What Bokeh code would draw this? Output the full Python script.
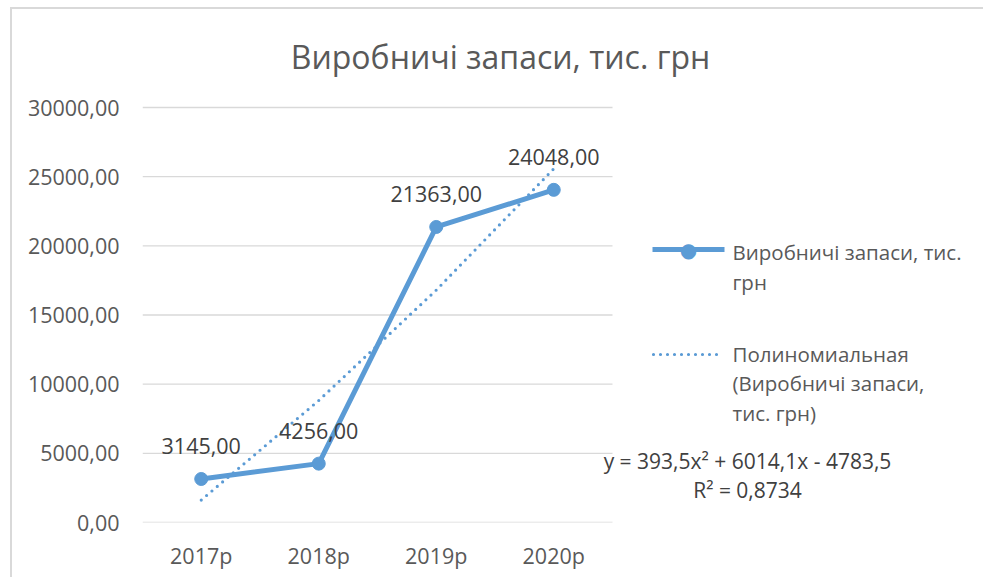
from bokeh.plotting import figure
from bokeh.models import (Range1d, FixedTicker, CustomJSTickFormatter,
                          ColumnDataSource, LabelSet, Label, Arrow)
from bokeh.core.properties import value
from bokeh.embed import file_html
from bokeh.resources import INLINE

# ---- data ----
categories = ["2017р", "2018р", "2019р", "2020р"]
stock_values = [3145.00, 4256.00, 21363.00, 24048.00]
trend_values = [1624.1, 8818.7, 16800.3, 25568.9]   # polynomial trendline
y_ticks = [0, 5000, 10000, 15000, 20000, 25000, 30000]
title_text = "Виробничі запаси, тис. грн"
series_name = ["Виробничі запаси, тис.", "грн"]
trend_name = ["Полиномиальная", "(Виробничі запаси,", "тис. грн)"]
equation_text = ["y = 393,5x² + 6014,1x - 4783,5", "R² = 0,8734"]

FONT = "Open Sans"
BLUE = "#5b9bd5"
TXT = "#595959"
GRID = "#d9d9d9"

# layout geometry (pixels)
PLOT_W, PLOT_H = 470, 415          # width of category area, height of 0..max value band
FRAME_W, FRAME_H = 841, 513
n = len(categories)
xs = list(range(1, n + 1))
y_max = y_ticks[-1]
x_end = 0.5 + n * FRAME_W / PLOT_W
y_end = y_max * FRAME_H / PLOT_H

p = figure(x_range=Range1d(0.5, x_end), y_range=Range1d(0, y_end),
           frame_width=FRAME_W, frame_height=FRAME_H,
           min_border_left=130, min_border_right=0, min_border_top=0, min_border_bottom=55,
           output_backend="svg", toolbar_location=None,
           styles={"border-left": "2px solid #d9d9d9", "border-top": "2px solid #d9d9d9",
                   "margin-left": "10px", "margin-top": "7px"})
p.outline_line_color = None
p.background_fill_color = "white"
p.border_fill_color = "white"
p.xgrid.grid_line_color = None
p.ygrid.grid_line_color = None

# horizontal gridlines across the category area only
p.segment(x0=[0.5] * len(y_ticks), x1=[n + 0.5] * len(y_ticks), y0=y_ticks, y1=y_ticks,
          line_color=GRID, line_width=1.3)

p.yaxis.ticker = FixedTicker(ticks=y_ticks)
p.yaxis.formatter = CustomJSTickFormatter(code="return tick.toFixed(2).replace('.', ',');")
p.xaxis.ticker = FixedTicker(ticks=xs)
p.xaxis.major_label_overrides = {x: c for x, c in zip(xs, categories)}
for ax in (p.xaxis, p.yaxis):
    ax.axis_line_color = None
    ax.major_tick_line_color = None
    ax.minor_tick_line_color = None
    ax.major_label_text_font = FONT
    ax.major_label_text_font_size = "21.5px"
    ax.major_label_text_color = TXT
p.yaxis.major_label_standoff = 17
p.xaxis.major_label_standoff = 12

src = ColumnDataSource(dict(x=xs, y=stock_values, t=trend_values,
                            lab=[f"{v:.2f}".replace(".", ",") for v in stock_values]))

p.line("x", "t", source=src, line_color=BLUE, line_width=3.2, line_dash="0 7", line_cap="round")
p.line("x", "y", source=src, line_color=BLUE, line_width=5, line_join="round")
p.scatter("x", "y", source=src, size=13, fill_color=BLUE, line_color=BLUE)

p.add_layout(LabelSet(x="x", y="y", text="lab", source=src, y_offset=33,
                      text_align="center", text_baseline="middle",
                      text_font=value(FONT), text_font_size="21.5px", text_color="#404040"))

# title
p.add_layout(Label(x=358, y=466, x_units="screen", y_units="screen", text=title_text,
                   text_align="center", text_baseline="middle",
                   text_font=FONT, text_font_size="32px", text_color=TXT))

# legend: series line + marker
p.add_layout(Arrow(end=None, x_start=510, y_start=273, x_end=582, y_end=273,
                   start_units="screen", end_units="screen", line_color=BLUE, line_width=5))
p.add_layout(Label(x=546, y=273, x_units="screen", y_units="screen", text="●",
                   text_align="center", text_baseline="middle",
                   text_font="DejaVu Sans", text_font_size="20px", text_color=BLUE))
for i, s in enumerate(series_name):
    p.add_layout(Label(x=590, y=271 - 30 * i, x_units="screen", y_units="screen", text=s,
                       text_align="left", text_baseline="middle",
                       text_font=FONT, text_font_size="20.5px", text_color=TXT))

# legend: trendline
p.add_layout(Arrow(end=None, x_start=511, y_start=168, x_end=581, y_end=168,
                   start_units="screen", end_units="screen", line_color=BLUE, line_width=3.2,
                   line_dash="0 7", line_cap="round"))
for i, s in enumerate(trend_name):
    p.add_layout(Label(x=590, y=169 - 29.5 * i, x_units="screen", y_units="screen", text=s,
                       text_align="left", text_baseline="middle",
                       text_font=FONT, text_font_size="20.5px", text_color=TXT))

# equation
for i, s in enumerate(equation_text):
    p.add_layout(Label(x=605, y=62 - 29 * i, x_units="screen", y_units="screen", text=s,
                       text_align="center", text_baseline="middle",
                       text_font=FONT, text_font_size="21px", text_color="#404040"))

open("out.html", "w").write(file_html(p, INLINE))
